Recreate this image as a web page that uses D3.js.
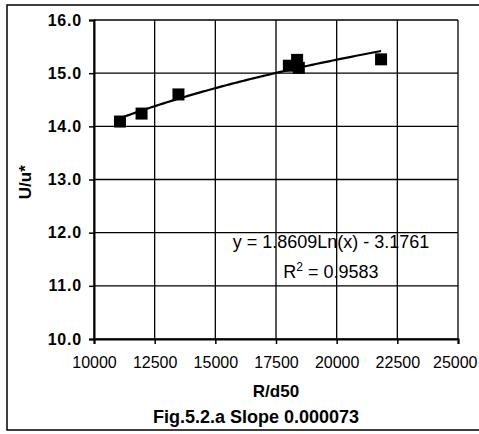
<!DOCTYPE html>
<html>
<head>
<meta charset="utf-8">
<script src="https://cdn.jsdelivr.net/npm/d3@7"></script>
<style>
  html, body { margin: 0; padding: 0; background: #fff; }
  svg { display: block; }
  text { font-family: Arial, "Liberation Sans", sans-serif; fill: #000; }
</style>
</head>
<body>
<script>
// Measured velocity ratio U/u* against relative roughness R/d50
const relRoughness = [11070, 11960, 13480, 18030, 18370, 18440, 21830];
const velocityRatio = [14.09, 14.24, 14.60, 15.14, 15.25, 15.10, 15.26];

const xTicks = [10000, 12500, 15000, 17500, 20000, 22500, 25000];
const yTicks = [10.0, 11.0, 12.0, 13.0, 14.0, 15.0, 16.0];

// Logarithmic trendline y = a ln(x) + b
const fitA = 1.8609, fitB = -3.1761, fitR2 = 0.9583;

const W = 479, H = 434;
const svg = d3.select("body").append("svg").attr("width", W).attr("height", H);

// outer frame
svg.append("rect").attr("x", 7).attr("y", 5).attr("width", 480).attr("height", 425)
  .attr("fill", "none").attr("stroke", "#000").attr("stroke-width", 1.5);

const x = d3.scaleLinear().domain([10000, 25000]).range([94, 458]);
const y = d3.scaleLinear().domain([10, 16]).range([339, 20]);

// grid
svg.append("g").selectAll("line").data(yTicks).join("line")
  .attr("x1", x(10000)).attr("x2", x(25000))
  .attr("y1", d => y(d)).attr("y2", d => y(d))
  .attr("stroke", "#000").attr("stroke-width", 1.3);
svg.append("g").selectAll("line").data(xTicks).join("line")
  .attr("y1", y(10)).attr("y2", y(16))
  .attr("x1", d => x(d)).attr("x2", d => x(d))
  .attr("stroke", "#000").attr("stroke-width", 1.3);

// axes
const yAxis = svg.append("g").attr("transform", `translate(${x(10000)},0)`)
  .call(d3.axisLeft(y).tickValues(yTicks).tickFormat(d3.format(".1f")).tickSize(5).tickPadding(7));
const xAxis = svg.append("g").attr("transform", `translate(0,${y(10)})`)
  .call(d3.axisBottom(x).tickValues(xTicks).tickFormat(d3.format("d")).tickSize(5).tickPadding(13));
[yAxis, xAxis].forEach(g => {
  g.select(".domain").attr("stroke", "#000").attr("stroke-width", 2);
  g.selectAll(".tick line").attr("stroke", "#000").attr("stroke-width", 1.5);
  g.selectAll(".tick text").attr("font-family", "Arial, 'Liberation Sans', sans-serif").attr("fill", "#000");
});
yAxis.selectAll(".tick text").attr("font-size", 16).attr("font-weight", "bold").style("letter-spacing", "0.8px");
xAxis.selectAll(".tick text").attr("font-size", 16).attr("font-weight", "normal");
// keep the last label inside the frame
xAxis.selectAll(".tick text").filter(d => d === 25000).attr("dx", -1).attr("text-anchor", "end")
  .attr("x", W - 1 - x(25000));

// trendline across the data range
const xs = d3.range(0, 101).map(i => d3.min(relRoughness) + i * (d3.max(relRoughness) - d3.min(relRoughness)) / 100);
svg.append("path")
  .datum(xs)
  .attr("fill", "none").attr("stroke", "#000").attr("stroke-width", 2.2)
  .attr("d", d3.line().x(d => x(d)).y(d => y(fitA * Math.log(d) + fitB)));

// data markers
const s = 12;
svg.append("g").selectAll("rect").data(relRoughness).join("rect")
  .attr("x", d => x(d) - s / 2)
  .attr("y", (d, i) => y(velocityRatio[i]) - s / 2)
  .attr("width", s).attr("height", s).attr("fill", "#000");

// axis titles
svg.append("text").attr("transform", `translate(31,${y(12.95)}) rotate(-90)`)
  .attr("text-anchor", "middle").attr("font-size", 17).attr("font-weight", "bold").text("U/u*");
svg.append("text").attr("x", 276).attr("y", 397).attr("text-anchor", "middle")
  .attr("font-size", 17).attr("font-weight", "bold").text("R/d50");
svg.append("text").attr("x", 256).attr("y", 423).attr("text-anchor", "middle")
  .attr("font-size", 18).attr("font-weight", "bold").text("Fig.5.2.a Slope 0.000073");

// trendline equation
svg.append("text").attr("x", 331).attr("y", 248).attr("text-anchor", "middle")
  .attr("font-size", 18).text(`y = ${fitA.toFixed(4)}Ln(x) - ${Math.abs(fitB).toFixed(4)}`);
const r2 = svg.append("text").attr("x", 331).attr("y", 278).attr("text-anchor", "middle").attr("font-size", 18);
r2.append("tspan").text("R");
r2.append("tspan").attr("dy", -7).attr("font-size", 12).text("2");
r2.append("tspan").attr("dy", 7).text(` = ${fitR2.toFixed(4)}`);
</script>
</body>
</html>
